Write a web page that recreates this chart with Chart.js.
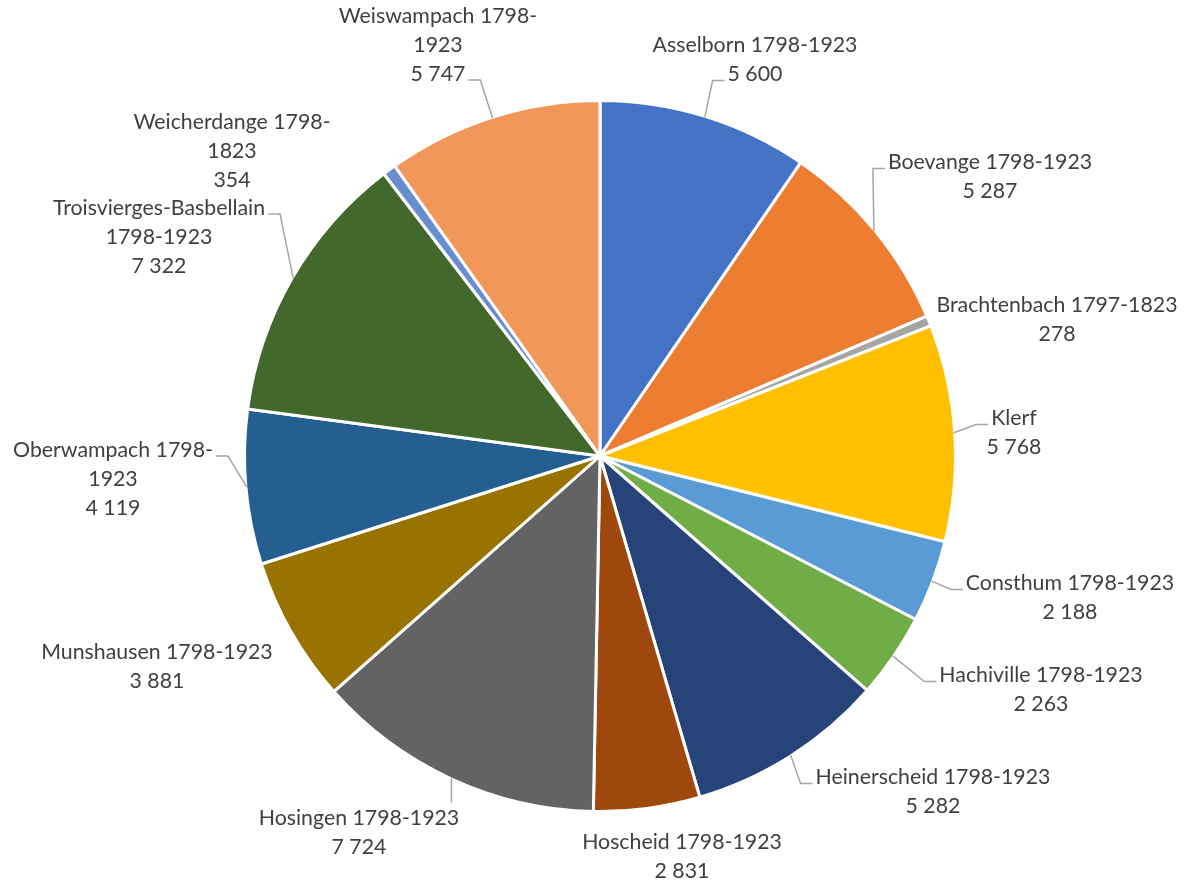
<!DOCTYPE html>
<html lang="en">
<head>
<meta charset="UTF-8" />
<title>Communes 1798-1923</title>
<script src="https://cdn.jsdelivr.net/npm/chart.js"></script>
<style>
    html, body { margin: 0; background: #ffffff; }
    canvas { display: block; }
</style>
</head>
<body>
<canvas id="pieChart" width="1192" height="882"></canvas>
<script>
// slices, clockwise from the top
const communes = [
    "Asselborn 1798-1923",
    "Boevange 1798-1923",
    "Brachtenbach 1797-1823",
    "Klerf",
    "Consthum 1798-1923",
    "Hachiville 1798-1923",
    "Heinerscheid 1798-1923",
    "Hoscheid 1798-1923",
    "Hosingen 1798-1923",
    "Munshausen 1798-1923",
    "Oberwampach 1798-1923",
    "Troisvierges-Basbellain 1798-1923",
    "Weicherdange 1798-1823",
    "Weiswampach 1798-1923",
];
const counts = [5600, 5287, 278, 5768, 2188, 2263, 5282, 2831, 7724, 3881, 4119, 7322, 354, 5747];
const sliceColors = [
    "#4472C4", "#ED7D31", "#A5A5A5", "#FFC000", "#5B9BD5", "#70AD47", "#264478",
    "#9E480E", "#636363", "#997300", "#255E91", "#43682B", "#698ED0", "#F1975A",
];

// label layout: text block centre relative to pie centre, wrap width (0 = none), leader line
const labelOffsets = [
    [155, -396], [390, -279], [457, -136], [414, -23], [470, 142], [441, 234], [333, 336],
    [82, 401], [-241, 377], [-443, 211], [-487, 23], [-441, -219], [-368, -305], [-162, -411],
];
const wrapWidths = [0, 0, 0, 0, 0, 0, 0, 0, 0, 0, 228, 228, 228, 228];
const leaders = [true, true, false, true, true, true, true, false, true, false, true, true, false, true];

const LINE_H = 29;
const FONT_FAMILY = "Lato, 'Open Sans', sans-serif";

function fmt(n) {
    return String(n).replace(/\B(?=(\d{3})+(?!\d))/g, " ");
}

function wrap(ctx, text, maxW) {
    if (!maxW) return [text];
    const parts = text.split(/(?<=[ -])/);
    const lines = [];
    let cur = "";
    parts.forEach((p) => {
        const test = cur + p;
        if (cur && ctx.measureText(test.trim()).width > maxW) {
            lines.push(cur.trim());
            cur = p;
        } else {
            cur = test;
        }
    });
    if (cur) lines.push(cur.trim());
    return lines;
}

const outsideLabels = {
    id: "outsideLabels",
    afterDatasetsDraw(chart) {
        const ctx = chart.ctx;
        const meta = chart.getDatasetMeta(0);
        ctx.save();
        // size the font so a reference label matches the original width
        ctx.font = "100px " + FONT_FAMILY;
        const size = (100 * 205) / ctx.measureText("Asselborn 1798-1923").width;
        ctx.font = size.toFixed(1) + "px " + FONT_FAMILY;
        ctx.textAlign = "center";
        ctx.textBaseline = "middle";

        meta.data.forEach((arc, i) => {
            const { x, y, startAngle, endAngle, outerRadius } = arc.getProps(
                ["x", "y", "startAngle", "endAngle", "outerRadius"], true);
            const mid = (startAngle + endAngle) / 2;
            const px = x + Math.cos(mid) * (outerRadius - 1);
            const py = y + Math.sin(mid) * (outerRadius - 1);

            const lines = wrap(ctx, communes[i], wrapWidths[i]).concat([fmt(counts[i])]);
            const cx = x + labelOffsets[i][0];
            const cy = y + labelOffsets[i][1];
            const boxes = lines.map((t, k) => {
                const w = ctx.measureText(t).width;
                const ly = cy - ((lines.length - 1) * LINE_H) / 2 + k * LINE_H;
                return { t, ly, left: cx - w / 2, right: cx + w / 2 };
            });

            ctx.fillStyle = "#404040";
            boxes.forEach((b) => ctx.fillText(b.t, cx, b.ly));

            if (!leaders[i]) return;
            ctx.strokeStyle = "#A6A6A6";
            ctx.lineWidth = 1.5;
            ctx.beginPath();
            ctx.moveTo(px, py);
            const first = boxes[0];
            if (px > first.left && px < first.right && py < first.ly) {
                // label sits right below the slice
                ctx.lineTo(px, first.ly - 16);
            } else {
                const toRight = px < cx;
                let best = null;
                let bestD = Infinity;
                boxes.forEach((b) => {
                    const ex = toRight ? b.left - 3 : b.right + 3;
                    if (toRight ? ex < px : ex > px) return;
                    const d = Math.hypot(ex - px, b.ly + 6 - py);
                    if (d < bestD) { bestD = d; best = { ex, ey: b.ly + 6 }; }
                });
                if (best) {
                    ctx.lineTo(best.ex + (toRight ? -12 : 12), best.ey);
                    ctx.lineTo(best.ex, best.ey);
                }
            }
            ctx.stroke();
        });
        ctx.restore();
    },
};

new Chart(document.getElementById("pieChart").getContext("2d"), {
    type: "pie",
    data: {
        labels: communes,
        datasets: [
            {
                data: counts,
                backgroundColor: sliceColors,
                borderColor: "#ffffff",
                borderWidth: 3,
            },
        ],
    },
    options: {
        responsive: false,
        animation: false,
        layout: { padding: { left: 243, right: 235, top: 99, bottom: 69 } },
        plugins: {
            legend: { display: false },
            tooltip: { enabled: false },
        },
    },
    plugins: [outsideLabels],
});
</script>
</body>
</html>
